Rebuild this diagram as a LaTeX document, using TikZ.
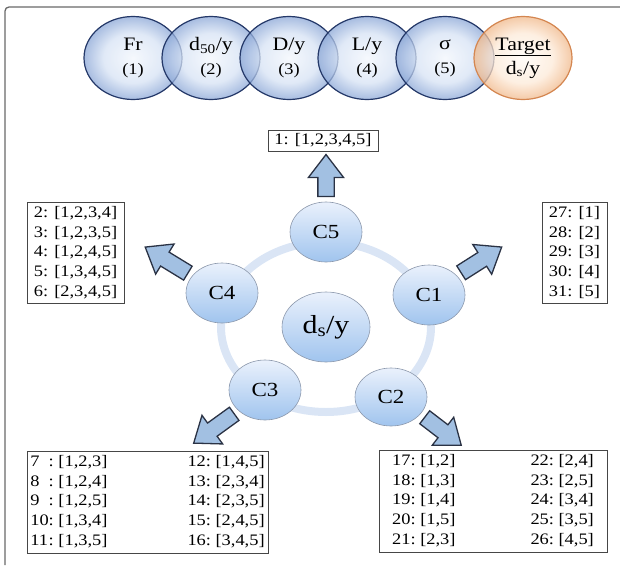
\documentclass[tikz,border=0pt]{standalone}
\usepackage{fontspec}
\setmainfont{Liberation Serif}[FakeStretch=1.15]
\usetikzlibrary{shapes.geometric, shapes.arrows, backgrounds}

\definecolor{bubblein}{RGB}{242,246,252}
\definecolor{bubblemid}{RGB}{214,226,244}
\definecolor{bubbleout}{RGB}{138,166,214}
\definecolor{bubbleline}{RGB}{36,56,104}
\definecolor{targetin}{RGB}{255,251,246}
\definecolor{targetmid}{RGB}{253,234,216}
\definecolor{targetout}{RGB}{240,184,138}
\definecolor{targetline}{RGB}{212,134,80}
\definecolor{ctop}{RGB}{234,241,252}
\definecolor{cbottom}{RGB}{160,196,238}
\definecolor{cline}{RGB}{140,152,172}
\definecolor{ringcol}{RGB}{218,229,245}
\definecolor{arrowfill}{RGB}{162,192,226}
\definecolor{arrowline}{RGB}{42,50,68}
\definecolor{boxline}{RGB}{70,70,70}
\definecolor{framecol}{RGB}{105,105,105}

\pgfdeclareradialshading{bubble}{\pgfpoint{0bp}{0bp}}{color(0bp)=(bubblein); color(15bp)=(bubblemid); color(25bp)=(bubbleout); color(50bp)=(bubbleout)}
\pgfdeclareradialshading{targetglow}{\pgfpoint{0bp}{0bp}}{color(0bp)=(targetin); color(15bp)=(targetmid); color(25bp)=(targetout); color(50bp)=(targetout)}

\newcommand{\idx}[1]{{\fontsize{16}{24}\selectfont(#1)}}

\begin{document}
\begin{tikzpicture}[x=1pt, y=-1pt]
	\tikzstyle{param} = [ellipse, draw=bubbleline, line width=1.2pt, shade, shading=bubble, fill opacity=0.75, text opacity=1, minimum width=98pt, minimum height=83pt, inner sep=0pt, align=center, font=\fontsize{19}{24}\selectfont]
	\tikzstyle{goal} = [param, draw=targetline, shading=targetglow]
	\tikzstyle{combo} = [ellipse, draw=cline, line width=0.6pt, top color=ctop, bottom color=cbottom, minimum width=72pt, minimum height=60pt, inner sep=0pt, font=\fontsize{20}{22}\selectfont]
	\tikzstyle{core} = [combo, minimum width=88pt, minimum height=70pt, font=\fontsize{26}{28}\selectfont]
	\tikzstyle{fat} = [single arrow, draw=arrowline, fill=arrowfill, line width=1.3pt, inner xsep=0pt, inner ysep=7.5pt, single arrow head extend=9.5pt, single arrow tip angle=75, allow upside down]
	\tikzstyle{list} = [draw=boxline, line width=0.8pt, fill=white, inner sep=0pt, font=\fontsize{16}{19.7}\selectfont]
	\tikzstyle{panel} = [draw=framecol, line width=1.3pt, rounded corners=4pt]
	\tikzstyle{ringline} = [draw=ringcol, line width=8pt]

	\useasboundingbox (0,0) rectangle (620,565);
	\draw[panel] (5,565) -- (5,7) -- (620,7);

	% input parameters and target
	\node[param]	at (133,58)	(fr)		{Fr\\\idx{1}};
	\node[param]	at (211,58)	(dfifty)	{d\textsubscript{50}/y\\\idx{2}};
	\node[param]	at (289,58)	(depth)		{D/y\\\idx{3}};
	\node[param]	at (367,58)	(length)	{L/y\\\idx{4}};
	\node[param]	at (445,58)	(sigma)		{σ\\\idx{5}};
	\node[goal]		at (523,58)	(target)	{\underline{Target}\\d\textsubscript{s}/y};

	% combination groups
	\node[core]		at (326,327)	(ds)	{d\textsubscript{s}/y};
	\node[combo]	at (326,232)	(c5)	{C5};
	\node[combo]	at (429,295)	(c1)	{C1};
	\node[combo, minimum height=58pt]	at (391,397)	(c2)	{C2};
	\node[combo]	at (265,390)	(c3)	{C3};
	\node[combo]	at (222,293)	(c4)	{C4};

	\begin{scope}[on background layer]
		\draw[ringline] (ds.center) ellipse [x radius=105pt, y radius=85pt];
	\end{scope}

	% model lists
	\node[list, minimum width=110pt, minimum height=21pt]	at (323,140.5)	(l5)	{1: [1,2,3,4,5]};
	\node[list, minimum width=97pt, minimum height=101pt, align=left]	at (75.5,252.5)	(l4)
		{2: [1,2,3,4]\\3: [1,2,3,5]\\4: [1,2,4,5]\\5: [1,3,4,5]\\6: [2,3,4,5]};
	\node[list, minimum width=65pt, minimum height=101pt, align=left]	at (574.5,252.5)	(l1)
		{27: [1]\\28: [2]\\29: [3]\\30: [4]\\31: [5]};
	\node[list, minimum width=241pt, minimum height=102pt]	at (147.5,502)	(l3)
		{\begin{tabular}{@{}l@{:\ }l@{\hspace{80pt}}l@{:\ }l@{}}
			7&[1,2,3]&12&[1,4,5]\\
			8&[1,2,4]&13&[2,3,4]\\
			9&[1,2,5]&14&[2,3,5]\\
			10&[1,3,4]&15&[2,4,5]\\
			11&[1,3,5]&16&[3,4,5]
		\end{tabular}};
	\node[list, minimum width=228pt, minimum height=102pt]	at (493,501)	(l2)
		{\begin{tabular}{@{}l@{:\ }l@{\hspace{75pt}}l@{:\ }l@{}}
			17&[1,2]&22&[2,4]\\
			18&[1,3]&23&[2,5]\\
			19&[1,4]&24&[3,4]\\
			20&[1,5]&25&[3,5]\\
			21&[2,3]&26&[4,5]
		\end{tabular}};

	% block arrows
	\coordinate (t5) at (326,160);
	\coordinate (t1) at (497,250);
	\coordinate (t2) at (457,442);
	\coordinate (t3) at (198,440);
	\coordinate (t4) at (150,250);

	\path (c5.north) -- (t5) node[fat, midway, sloped, minimum height=42pt] {};
	\path (c1.35) -- (t1) node[fat, midway, sloped, minimum height=48pt] {};
	\path (c2.330) -- (t2) node[fat, midway, sloped, minimum height=46pt] {};
	\path (c3.218) -- (t3) node[fat, midway, sloped, minimum height=50pt] {};
	\path (c4.150) -- (t4) node[fat, midway, sloped, minimum height=50pt] {};
\end{tikzpicture}
\end{document}
